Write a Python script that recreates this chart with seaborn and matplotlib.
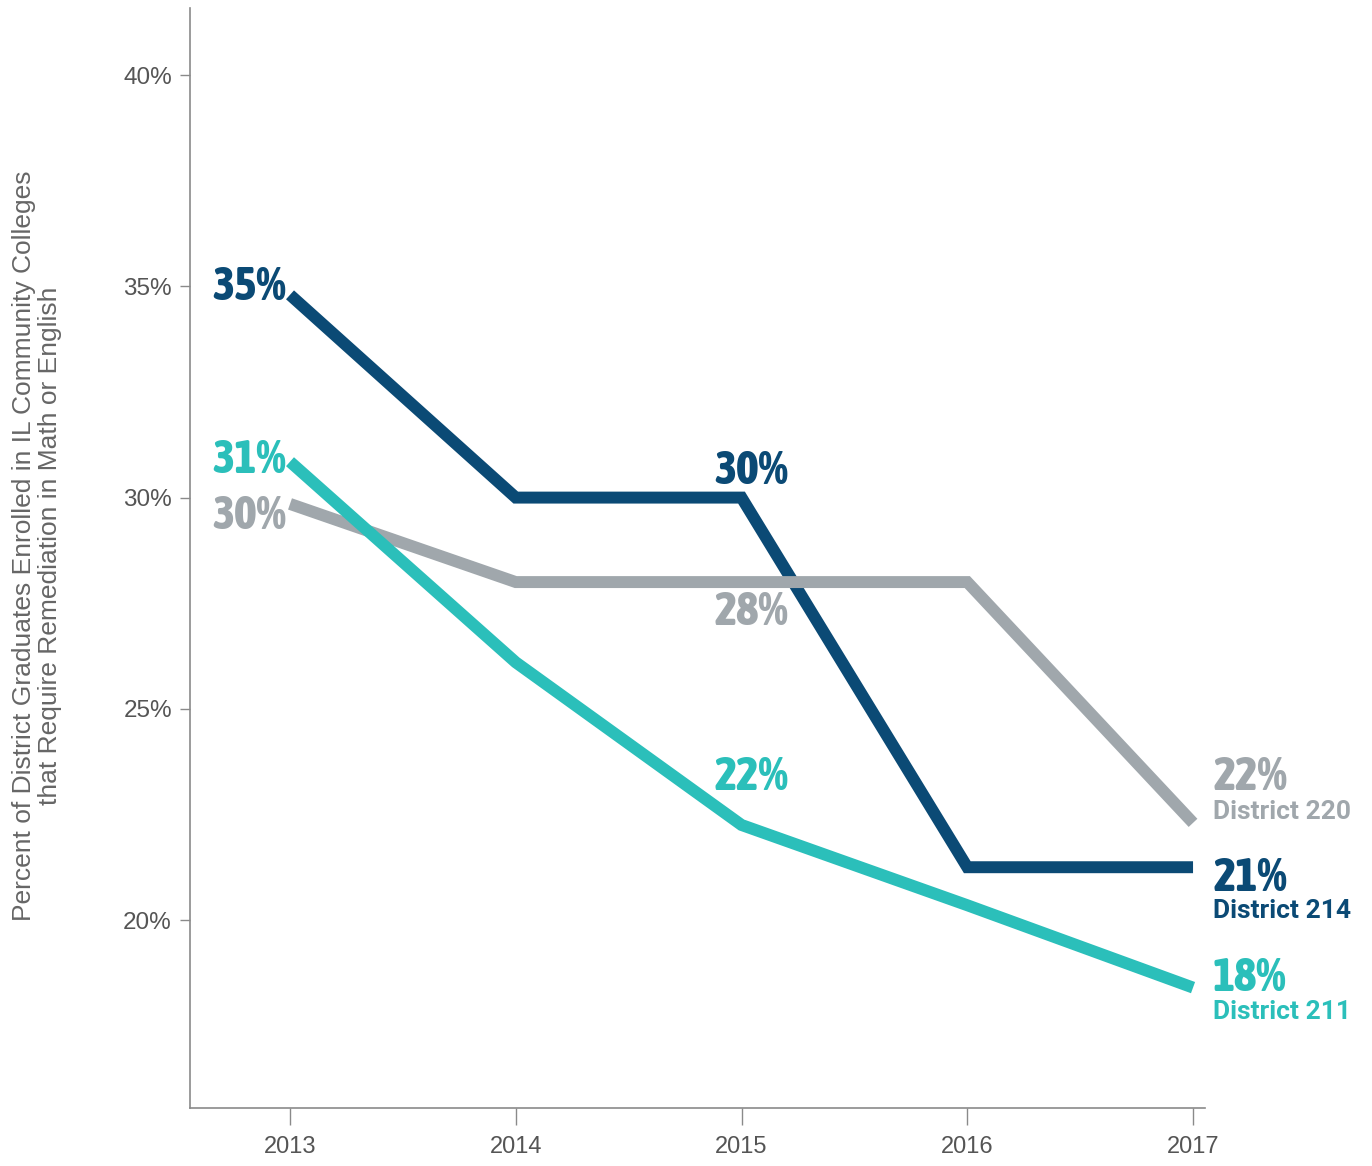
import matplotlib
matplotlib.use("Agg")
import matplotlib.pyplot as plt
import seaborn as sns
import pandas as pd
from matplotlib.ticker import FixedLocator, FuncFormatter
from matplotlib import font_manager
from matplotlib.font_manager import FontProperties
import matplotlib.patheffects as pe

years = [2013, 2014, 2015, 2016, 2017]
district_214 = [34.8, 30.0, 30.0, 21.25, 21.25]
district_220 = [29.85, 28.0, 28.0, 28.0, 22.3]
district_211 = [30.85, 26.1, 22.25, 20.35, 18.4]
series_names = ["District 214", "District 220", "District 211"]
colors = {"District 214": "#0b4a75", "District 220": "#a0a7ac", "District 211": "#2bbfba"}
y_ticks = [20, 25, 30, 35, 40]

rows = []
for name, vals in zip(series_names, [district_214, district_220, district_211]):
    for yr, v in zip(years, vals):
        rows.append({"year": yr, "value": v, "district": name})
df = pd.DataFrame(rows)

sns.set_style("white")
plt.rcParams["font.family"] = ["Liberation Sans", "DejaVu Sans"]


def _w(f):
    w = f.weight
    if isinstance(w, str):
        w = font_manager.weight_dict.get(w, 400)
    return int(w)


def _s(f):
    s = f.stretch
    if isinstance(s, str):
        s = font_manager.stretch_dict.get(s, 500)
    s = int(s)
    n = (f.name + " " + f.fname).lower()
    if s == 500 and ("condensed" in n or "narrow" in n):
        s = 300
    return s


cands = [f for f in font_manager.fontManager.ttflist
         if _s(f) < 500 and f.style == "normal"
         and "italic" not in f.fname.lower() and "oblique" not in f.fname.lower()
         and "dejavu" not in f.fname.lower() and 600 <= _w(f) <= 800]
cands.sort(key=lambda f: (abs(_s(f) - 300), -_w(f), f.fname))
chosen = cands[0] if cands else None

fig = plt.figure(figsize=(13.72, 11.66), dpi=100)
ax = fig.add_axes([190 / 1372, 58 / 1166, (1205 - 190) / 1372, (1108 - 8) / 1166])

sns.lineplot(data=df, x="year", y="value", hue="district", hue_order=series_names,
             palette=colors, linewidth=8.6, legend=False, ax=ax,
             solid_capstyle="butt", solid_joinstyle="miter")

ax.set_xlim(2012.557, 2017.053)
ax.set_ylim(15.55, 41.59)
ax.xaxis.set_major_locator(FixedLocator(years))
ax.yaxis.set_major_locator(FixedLocator(y_ticks))
ax.yaxis.set_major_formatter(FuncFormatter(lambda v, p: f"{v:.0f}%"))
ax.set_xlabel("")
ax.set_ylabel("")
for s in ["top", "right"]:
    ax.spines[s].set_visible(False)
for s in ["left", "bottom"]:
    ax.spines[s].set_color("#8a8a8a")
    ax.spines[s].set_linewidth(1.2)
ax.tick_params(axis="y", which="major", direction="out", length=7, width=1, color="#8a8a8a",
               labelsize=17.5, labelcolor="#555555", pad=6, left=True)
ax.tick_params(axis="x", which="major", direction="out", length=12, width=1, color="#8a8a8a",
               labelsize=17, labelcolor="#555555", pad=8, bottom=True)

fig.text(37 / 1372, 1 - 546 / 1166,
         "Percent of District Graduates Enrolled in IL Community Colleges\nthat Require Remediation in Math or English",
         rotation=90, ha="center", va="center", multialignment="center",
         fontsize=19, color="#666666", linespacing=1.15)

if chosen is not None:
    big_fp = FontProperties(fname=chosen.fname, size=34)
else:
    big_fp = FontProperties(family=["Liberation Sans", "DejaVu Sans"], weight="bold", size=28)
small = dict(family=["Roboto", "DejaVu Sans"], fontweight="bold", fontsize=19, va="center")

data = {"District 214": district_214, "District 220": district_220, "District 211": district_211}


def lab(name, idx, text, dx, dy, ha, is_big):
    kw = dict(fontproperties=big_fp, va="center") if is_big else small
    ax.annotate(text, xy=(years[idx], data[name][idx]), xytext=(dx, dy),
                textcoords="offset pixels", ha=ha, color=colors[name], **kw)


# 2013 labels
lab("District 214", 0, f"{data['District 214'][0]:.0f}%", -4, 8, "right", True)
lab("District 211", 0, f"{data['District 211'][0]:.0f}%", -4, 2, "right", True)
lab("District 220", 0, f"{data['District 220'][0]:.0f}%", -4, -12, "right", True)
# 2015 labels
lab("District 214", 2, f"{data['District 214'][2]:.0f}%", 10, 27, "center", True)
lab("District 220", 2, f"{data['District 220'][2]:.0f}%", 10, -30, "center", True)
lab("District 211", 2, f"{data['District 211'][2]:.0f}%", 10, 48, "center", True)
# 2017 labels
lab("District 220", 4, f"{data['District 220'][4]:.0f}%", 20, 46, "left", True)
lab("District 220", 4, "District 220", 20, 11, "left", False)
lab("District 214", 4, f"{data['District 214'][4]:.0f}%", 20, -11, "left", True)
lab("District 214", 4, "District 214", 20, -44, "left", False)
lab("District 211", 4, f"{data['District 211'][4]:.0f}%", 20, 10, "left", True)
lab("District 211", 4, "District 211", 20, -24, "left", False)

fig.savefig("out.png", dpi=100)
